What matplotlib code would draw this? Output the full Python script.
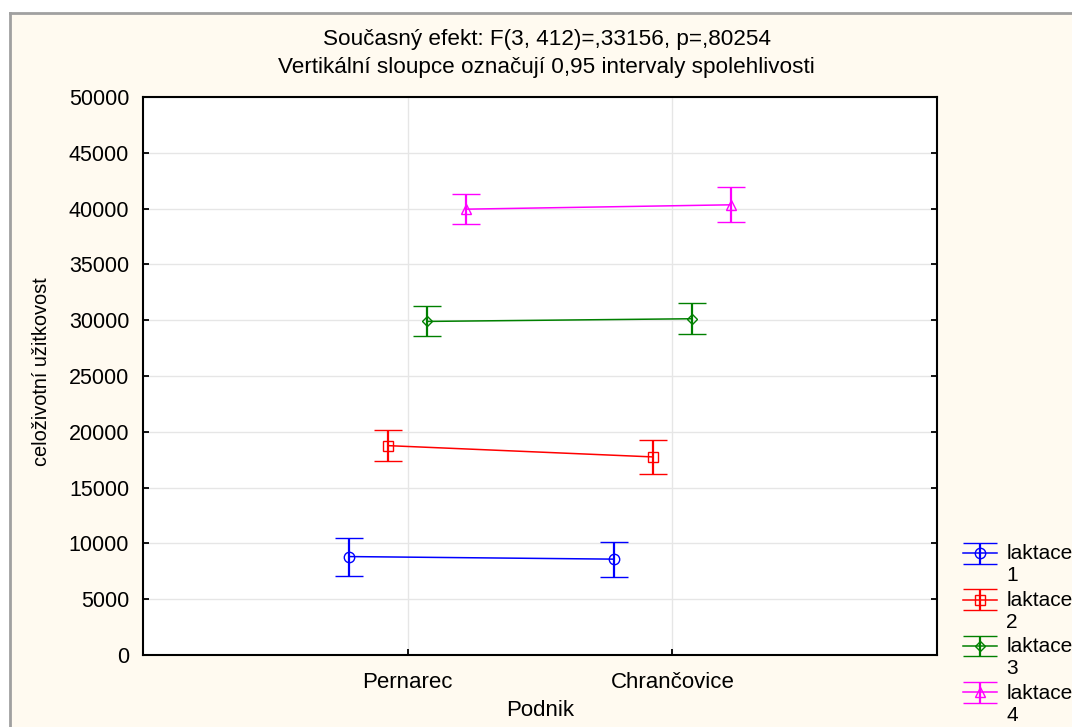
import matplotlib

matplotlib.use("Agg")
import matplotlib.pyplot as plt
from matplotlib.collections import LineCollection
from matplotlib.lines import Line2D
from matplotlib.transforms import ScaledTranslation

plt.rcParams["font.family"] = ["Liberation Sans", "DejaVu Sans"]

# data
PODNIKY = ["Pernarec", "Chrančovice"]
SERIE = ["laktace\n1", "laktace\n2", "laktace\n3", "laktace\n4"]
PRUMERY = [
    [8820, 8590],
    [18760, 17750],
    [29890, 30130],
    [39950, 40340],
]
HORNI = [
    [10500, 10120],
    [20130, 19300],
    [31240, 31540],
    [41290, 41920],
]
DOLNI = [
    [7090, 6980],
    [17350, 16250],
    [28550, 28720],
    [38660, 38780],
]
Y_TICKS = list(range(0, 50001, 5000))

BARVY = ["#0000ff", "#ff0000", "#008000", "#ff00ff"]
ZNACKY = ["o", "s", "D", "^"]
VELIKOSTI = [7.5, 7, 5.5, 7.5]
POSUNY = [-0.222, -0.074, 0.074, 0.222]

fig = plt.figure(figsize=(10.72, 7.27), dpi=100, facecolor="#fffaf0")
ax = fig.add_axes([143 / 1072, 1 - 655 / 727, (937 - 143) / 1072, (655 - 97) / 727])
ax.set_facecolor("white")

handles = []
for i, nazev in enumerate(SERIE):
    x = [j + 1 + POSUNY[i] for j in range(len(PODNIKY))]
    y = PRUMERY[i]
    err = [
        [m - d for m, d in zip(PRUMERY[i], DOLNI[i])],
        [h - m for m, h in zip(PRUMERY[i], HORNI[i])],
    ]
    c = ax.errorbar(
        x, y, yerr=err,
        color=BARVY[i], marker=ZNACKY[i], markersize=VELIKOSTI[i],
        markerfacecolor="none", markeredgewidth=1.0,
        linewidth=1.1, elinewidth=1.6, capsize=10, capthick=1.6,
        label=nazev, zorder=3,
    )
    handles.append(c)

ax.set_xlim(0, 3)
ax.set_ylim(0, 50000)
ax.set_xticks([1, 2])
ax.set_xticklabels(PODNIKY)
ax.set_yticks(Y_TICKS)
ax.grid(True, color="#e6e6e6", linewidth=1.0, zorder=0)
ax.set_axisbelow(True)
for s in ax.spines.values():
    s.set_linewidth(1.5)
    s.set_color("black")
ax.tick_params(direction="in", length=4, width=1.3, right=True, top=False)
ax.tick_params(axis="x", pad=12, labelsize=16)
ax.tick_params(axis="y", pad=10, labelsize=15.5)

fig.text(547 / 1072, 1 - 40 / 727, "Současný efekt: F(3, 412)=,33156, p=,80254",
         ha="center", va="center", fontsize=16.2)
fig.text(546 / 1072, 1 - 67 / 727, "Vertikální sloupce označují 0,95 intervaly spolehlivosti",
         ha="center", va="center", fontsize=16.2)
fig.text(42 / 1072, 1 - 372 / 727, "celoživotní užitkovost", rotation=90,
         ha="center", va="center", fontsize=14.4)
fig.text(540 / 1072, 1 - 711 / 727, "Podnik", ha="center", va="center", fontsize=16)

leg = ax.legend(
    handles=handles, loc="upper left", bbox_to_anchor=(953 / 1072, 1 - 534 / 727),
    bbox_transform=fig.transFigure, frameon=False, fontsize=15,
    handlelength=1.6, handletextpad=0.45, labelspacing=0.26, borderpad=0,
)
# handle sits beside the first line of the label, wide caps
posun = ScaledTranslation(0, 8.6 / 72, fig.dpi_scale_trans)
for art in leg.findobj(lambda a: isinstance(a, (Line2D, LineCollection))):
    if isinstance(art, Line2D) and art.get_marker() == "_":
        art.set_markersize(25)
    art.set_transform(art.get_transform() + posun)

# window border
fig.add_artist(Line2D([10 / 1072, 1], [1 - 13 / 727] * 2, color="#a0a0a0", linewidth=2))
fig.add_artist(Line2D([10 / 1072] * 2, [0, 1 - 13 / 727], color="#a0a0a0", linewidth=2))
fig.patches.append(plt.Rectangle((0, 1 - 13 / 727), 1, 13 / 727, transform=fig.transFigure,
                                 facecolor="white", edgecolor="none", zorder=-1))
fig.patches.append(plt.Rectangle((0, 0), 10 / 1072, 1, transform=fig.transFigure,
                                 facecolor="white", edgecolor="none", zorder=-1))

fig.savefig("out.png", dpi=100, facecolor=fig.get_facecolor())
